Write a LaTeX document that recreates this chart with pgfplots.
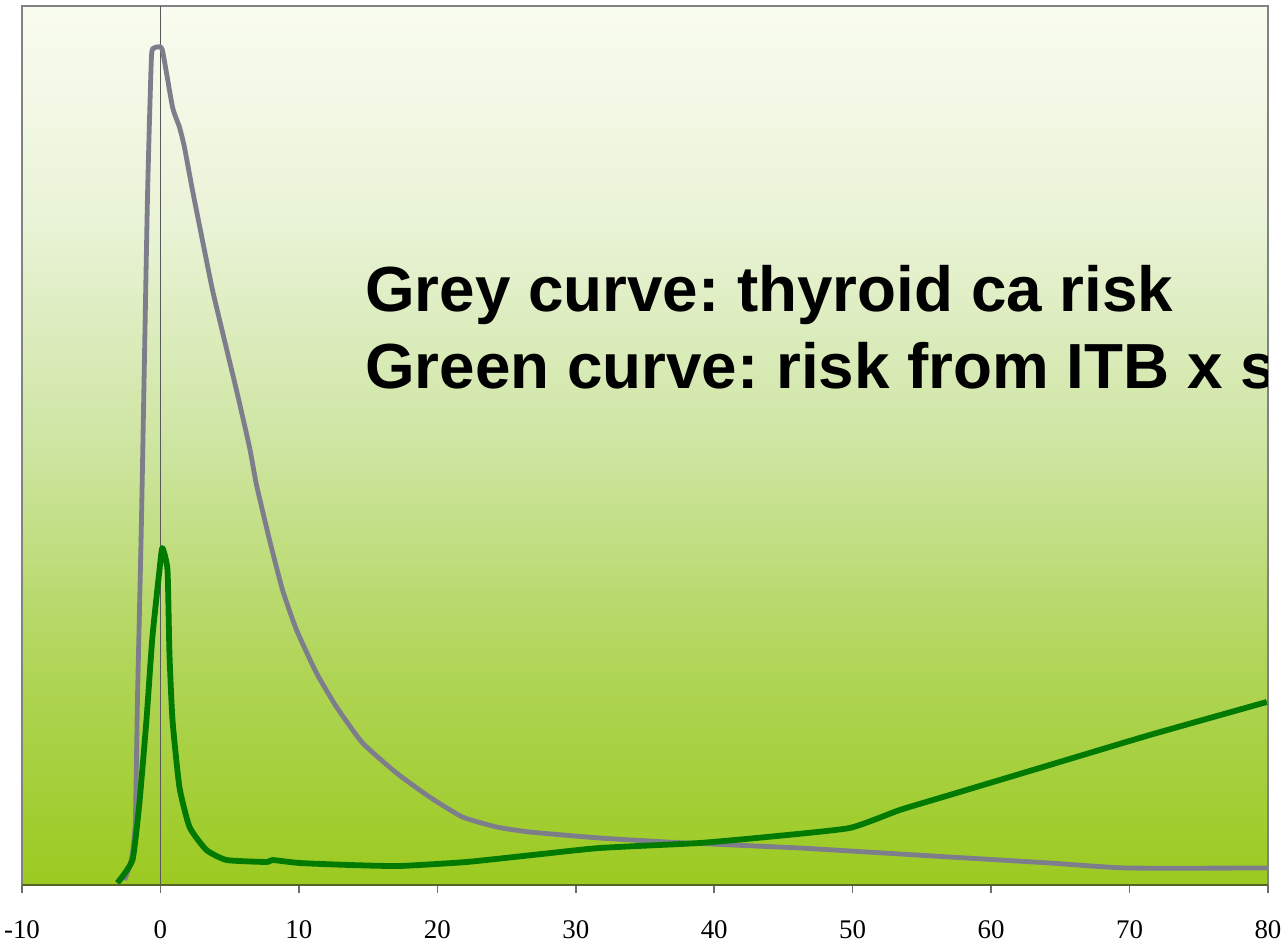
\documentclass[border=0pt]{standalone}
\usepackage{pgfplots}
\pgfplotsset{compat=1.18}
\usepackage{fontspec}
\setmainfont{Liberation Serif}
\newfontfamily\lsans{Liberation Sans}
\frenchspacing
\definecolor{bg0}{RGB}{156,202,32}
\definecolor{bg1}{RGB}{176,213,88}
\definecolor{bg2}{RGB}{206,229,162}
\definecolor{bg3}{RGB}{233,243,214}
\definecolor{bg4}{RGB}{249,252,240}
\definecolor{framegray}{RGB}{130,130,130}
\definecolor{greycurve}{RGB}{125,125,140}
\definecolor{greencurve}{RGB}{0,122,0}
\definecolor{axisolive}{RGB}{85,100,40}
\definecolor{tickgray}{RGB}{110,110,110}
\pgfdeclareverticalshading{chartbg}{100bp}{color(0bp)=(bg0); color(25bp)=(bg0); color(37.5bp)=(bg1); color(50bp)=(bg2); color(62.5bp)=(bg3); color(75bp)=(bg4); color(100bp)=(bg4)}
\begin{document}
\begin{tikzpicture}
\useasboundingbox (-22bp,-60bp) rectangle (1260bp,885bp);
\clip (-22bp,-60bp) rectangle (1260bp,885bp);
\begin{axis}[
  scale only axis, width=1246bp, height=879bp,
  at={(0,0)}, anchor=south west,
  xmin=-10, xmax=80, ymin=0, ymax=879,
  axis background/.style={shade, shading=chartbg},
  axis line style={draw=framegray, line width=2.5bp},
  xtick={-10,0,10,20,30,40,50,60,70,80},
  xticklabels={-10,0,10,20,30,40,50,60,70,80},
  ytick=\empty,
  tick pos=lower,
  tick align=outside,
  major tick length=8bp,
  x tick style={draw=tickgray, line width=1.5bp},
  xticklabel style={font=\fontsize{27}{27}\selectfont, yshift=-24bp},
  clip mode=global,
  after end axis/.code={
    \draw[axisolive, line width=2.2bp] (rel axis cs:0,0) -- (rel axis cs:1,0);
  },
]
% vertical line at x = 0
\addplot[draw=black!65, line width=1.5bp] coordinates {(0,0) (0,879)};
% grey curve: thyroid ca risk
\addplot[draw=greycurve, line width=4.8bp, line join=round, smooth, tension=0.3] coordinates {
(-2.60,5) (-2.24,18) (-2.02,32) (-1.81,65) (-1.66,185) (-1.37,365) (-0.94,685)
(-0.65,828) (-0.43,837) (-0.22,838) (0.14,835) (0.87,778) (1.37,758) (1.73,738)
(2.31,695) (3.03,645) (3.76,595) (4.62,545) (5.49,495) (6.43,438) (6.94,400)
(7.88,345) (8.82,295) (9.83,255) (11.27,212) (12.72,178) (14.60,142) (17.05,112)
(19.44,88) (21.82,68) (24.28,58) (26.66,53) (31.72,47) (36.56,43) (41.33,40)
(46.17,37) (51.01,33) (57.01,28) (64.23,22) (69.80,17) (79.91,17)
};
% green curve: risk from ITB x salt
\addplot[draw=greencurve, line width=5.8bp, line join=round, smooth, tension=0.3] coordinates {
(-3.11,2) (-2.02,25) (-1.52,82) (-1.01,165) (-0.58,248) (-0.07,315) (0.14,337)
(0.51,315) (0.65,232) (0.87,165) (1.37,98) (2.10,58) (3.32,35) (4.77,25)
(7.66,23) (8.09,25) (10.04,22) (13.66,20) (17.27,19) (22.11,23) (26.88,30)
(31.72,37) (38.95,42) (43.79,48) (49.78,57) (53.40,75) (57.01,90) (64.23,120)
(71.46,150) (79.91,183)
};
\node[anchor=base west, inner sep=0, font=\lsans\bfseries\fontsize{64}{76}\selectfont]
  at (rel axis cs:0.2753,0.653) {Grey curve: thyroid ca risk};
\node[anchor=base west, inner sep=0, font=\lsans\bfseries\fontsize{64}{76}\selectfont]
  at (rel axis cs:0.2753,0.5654) {Green curve: risk from ITB x salt};
\end{axis}
\end{tikzpicture}
\end{document}
